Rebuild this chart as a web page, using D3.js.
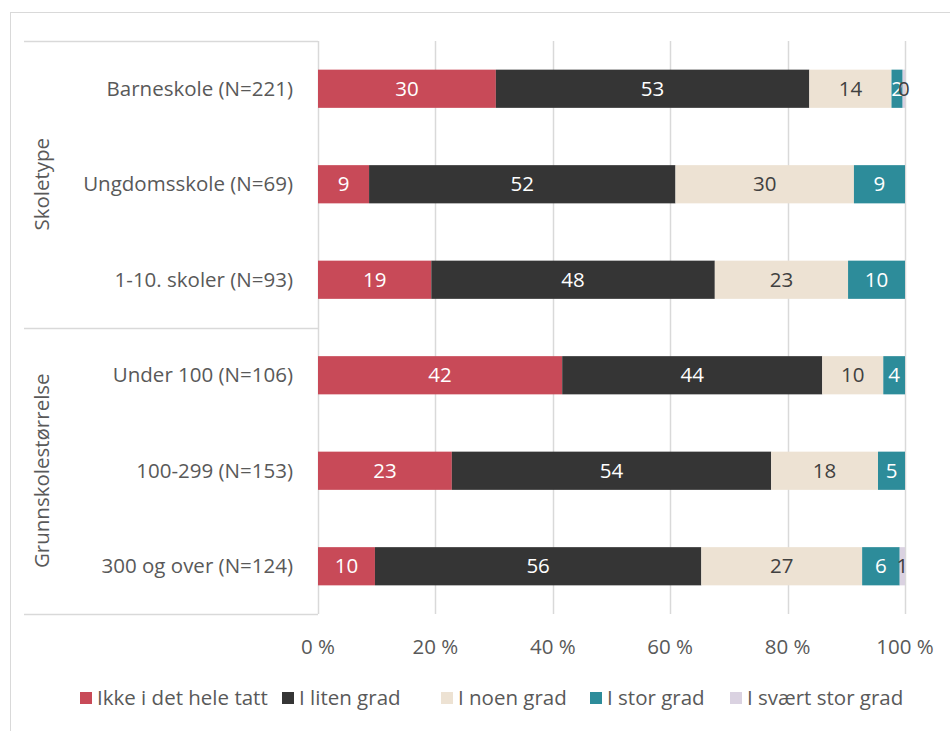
<!DOCTYPE html>
<html>
<head>
<meta charset="utf-8">
<script src="https://cdn.jsdelivr.net/npm/d3@7"></script>
<style>
  body { margin: 0; background: #fff; }
  svg text { font-family: "Open Sans", Lato, sans-serif; }
</style>
</head>
<body>
<svg></svg>
<script>
// data
var categories = ["Barneskole (N=221)", "Ungdomsskole (N=69)", "1-10. skoler (N=93)",
                  "Under 100 (N=106)", "100-299 (N=153)", "300 og over (N=124)"];
var groupNames = ["Skoletype", "Grunnskolestørrelse"];
var groupSizes = [3, 3];
var seriesNames = ["Ikke i det hele tatt", "I liten grad", "I noen grad", "I stor grad", "I svært stor grad"];
var ikke   = [30.3, 8.7, 19.3, 41.6, 22.8, 9.7];
var liten  = [53.4, 52.2, 48.3, 44.3, 54.4, 55.6];
var noen   = [14.0, 30.4, 22.7, 10.4, 18.2, 27.4];
var stor   = [1.9, 8.7, 9.7, 3.7, 4.6, 6.4];
var svaert = [0.4, 0, 0, 0, 0, 0.9];
var xTicks = [0, 20, 40, 60, 80, 100];

var colors = ["#c84a58", "#353535", "#ede2d3", "#2d8c9a", "#dad2e1"];
var labelColors = ["#fff", "#fff", "#404040", "#fff", "#404040"];

var width = 950;
var height = 731;
var gridColor = "#d9d9d9";
var textColor = "#595959";
var fontSize = "20.5px";

var rows = categories.map((c, i) => ({
  cat: c, s0: ikke[i], s1: liten[i], s2: noen[i], s3: stor[i], s4: svaert[i]
}));
var keys = ["s0", "s1", "s2", "s3", "s4"];
var stacked = d3.stack().keys(keys)(rows);

var svg = d3.select("svg")
	.attr("width", width)
	.attr("height", height);

// outer frame
svg.append("rect")
	.attr("x", 10.5).attr("y", 12.5)
	.attr("width", 960).attr("height", 740)
	.attr("fill", "none")
	.attr("stroke", gridColor);

var Xscale = d3.scaleLinear()
				.domain([0, 100])
				.range([318, 905]);

var Yscale = d3.scaleBand()
				.domain(categories)
				.range([41, 614])
				.paddingInner(0.6)
				.paddingOuter(0.3);

// gridlines
svg.append("g")
	.selectAll("line")
	.data(xTicks)
	.enter()
		.append("line")
		.attr("x1", d => Math.round(Xscale(d)) + 0.5)
		.attr("x2", d => Math.round(Xscale(d)) + 0.5)
		.attr("y1", 41)
		.attr("y2", 614)
		.attr("stroke", gridColor)
		.attr("stroke-width", 1.5);

// x tick labels
svg.append("g")
	.selectAll("text")
	.data(xTicks)
	.enter()
		.append("text")
		.attr("x", d => Xscale(d))
		.attr("y", 647)
		.attr("dy", "0.35em")
		.attr("text-anchor", "middle")
		.attr("font-size", fontSize)
		.attr("fill", textColor)
		.text(d => d + " %");

// category axis: horizontal group separators
var step = Yscale.step();
var bounds = [0];
groupSizes.forEach(n => bounds.push(bounds[bounds.length - 1] + n));
svg.append("g")
	.selectAll("line")
	.data(bounds)
	.enter()
		.append("line")
		.attr("x1", 24)
		.attr("x2", 318)
		.attr("y1", d => Math.round(41 + d * step) + 0.5)
		.attr("y2", d => Math.round(41 + d * step) + 0.5)
		.attr("stroke", gridColor)
		.attr("stroke-width", 1.5);

// category labels
svg.append("g")
	.selectAll("text")
	.data(categories)
	.enter()
		.append("text")
		.attr("x", 293)
		.attr("y", d => Yscale(d) + Yscale.bandwidth() / 2)
		.attr("dy", "0.35em")
		.attr("text-anchor", "end")
		.attr("font-size", fontSize)
		.attr("fill", textColor)
		.text(d => d);

// group labels (rotated)
svg.append("g")
	.selectAll("text")
	.data(groupNames)
	.enter()
		.append("text")
		.attr("transform", (d, i) => {
			var mid = 41 + (bounds[i] + bounds[i + 1]) / 2 * step;
			return "translate(42," + mid + ") rotate(-90)";
		})
		.attr("dy", "0.35em")
		.attr("text-anchor", "middle")
		.attr("font-size", fontSize)
		.attr("fill", textColor)
		.text(d => d);

// bars
var layer = svg.append("g")
	.selectAll("g")
	.data(stacked)
	.enter()
		.append("g")
		.attr("fill", (d, i) => colors[i]);

layer.selectAll("rect")
	.data(d => d)
	.enter()
		.append("rect")
		.attr("x", d => Xscale(d[0]))
		.attr("y", d => Yscale(d.data.cat))
		.attr("width", d => Xscale(d[1]) - Xscale(d[0]))
		.attr("height", Yscale.bandwidth());

// value labels
svg.append("g")
	.selectAll("g")
	.data(stacked)
	.enter()
		.append("g")
		.attr("fill", (d, i) => labelColors[i])
		.selectAll("text")
		.data(d => d.filter(p => p[1] - p[0] > 0))
		.enter()
			.append("text")
			.attr("x", d => Xscale((d[0] + d[1]) / 2))
			.attr("y", d => Yscale(d.data.cat) + Yscale.bandwidth() / 2)
			.attr("dy", "0.35em")
			.attr("text-anchor", "middle")
			.attr("font-size", fontSize)
			.text(d => Math.round(d[1] - d[0]));

// legend
var legendX = [80, 282, 441, 590, 730];
var legend = svg.append("g")
	.selectAll("g")
	.data(seriesNames)
	.enter()
		.append("g")
		.attr("transform", (d, i) => "translate(" + legendX[i] + ",692)");

legend.append("rect")
	.attr("width", 12)
	.attr("height", 12)
	.attr("fill", (d, i) => colors[i]);

legend.append("text")
	.attr("x", 17)
	.attr("y", 6)
	.attr("dy", "0.35em")
	.attr("font-size", fontSize)
	.attr("fill", textColor)
	.text(d => d);
</script>
</body>
</html>
